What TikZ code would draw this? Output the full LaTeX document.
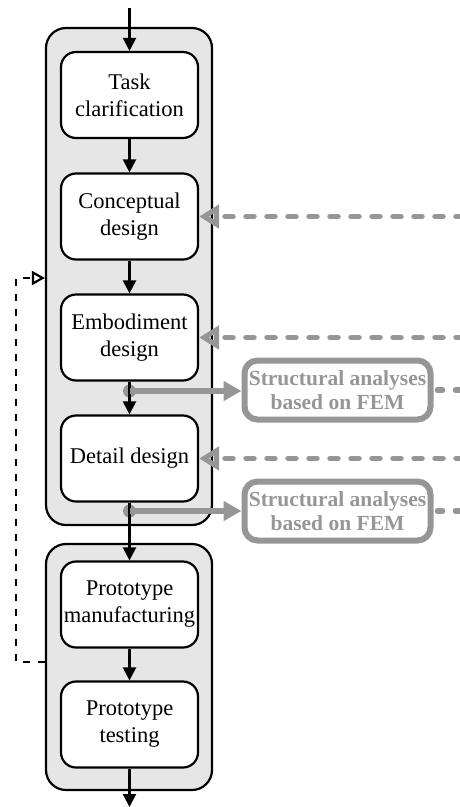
\documentclass[tikz,border=0pt]{standalone}
\usepackage{fontspec}
\setmainfont{Liberation Serif}
\usetikzlibrary{arrows.meta}
\definecolor{phasefill}{RGB}{230,230,230}
\definecolor{fegray}{RGB}{150,150,150}
\tikzset{
  phase/.style={draw=black, line width=2.2pt, fill=phasefill, rounded corners=20pt,
    minimum width=166pt, inner sep=0pt},
  stepbox/.style={draw=black, line width=2.2pt, fill=white, rounded corners=15pt,
    minimum width=137pt, minimum height=86pt, inner sep=0pt, align=center,
    font=\fontsize{22.5}{27}\selectfont},
  femeval/.style={draw=fegray, line width=6pt, fill=white, rounded corners=13pt,
    minimum width=186pt, minimum height=59pt, inner sep=0pt, align=center,
    text=fegray, font=\fontsize{21.5}{24}\selectfont\bfseries},
  flow/.style={line width=2.2pt, -{Triangle[length=13pt,width=13pt]}},
  feedback/.style={line width=2.2pt, dash pattern=on 7pt off 8pt,
    -{Triangle[open,length=13pt,width=14pt]}},
  input/.style={draw=fegray, line width=5.5pt, line cap=round, dash pattern=on 8pt off 13pt,
    -{Triangle[open,length=20pt,width=23pt,line cap=butt]}},
  output/.style={draw=fegray, line width=5.5pt, -{Triangle[length=18pt,width=19pt]}},
  outdash/.style={draw=fegray, line width=5.5pt, line cap=round, dash pattern=on 8pt off 13pt,
    dash phase=3pt},
}
\begin{document}
\begin{tikzpicture}[x=1pt, y=-1pt]
\useasboundingbox (0,0) rectangle (460,807);

% phase containers
\node[phase, minimum height=497pt] (design) at (129,276.5) {};
\node[phase, minimum height=246pt] (proto) at (129,667) {};

% process steps
\node[stepbox] (task) at (129.5,95) {Task\\clarification};
\node[stepbox] (concept) at (129.5,216.5) {Conceptual\\design};
\node[stepbox] (embod) at (129.5,337.5) {Embodiment\\design};
\node[stepbox] (detail) at (129.5,458.5) {Detail design};
\node[stepbox] (manuf) at (129.5,604.5) {Prototype\\manufacturing};
\node[stepbox] (test) at (129.5,724.5) {Prototype\\testing};

% FEM analyses
\node[femeval] (fem1) at (337.5,390) {Structural analyses\\based on FEM};
\node[femeval] (fem2) at (337.5,511) {Structural analyses\\based on FEM};

% in/out coordinates
\coordinate (start) at (129.5,8);
\coordinate (finish) at (129.5,807);
\coordinate (tap1) at (129.5,391);
\coordinate (tap2) at (129.5,511);
\coordinate (inC) at (464,216.5);
\coordinate (inE) at (464,337.5);
\coordinate (inD) at (464,458.5);
\coordinate (out1) at (464,390);
\coordinate (out2) at (464,511);
\coordinate (fbA) at (16,662);
\coordinate (fbB) at (16,278);

% FEM output taps (under the main flow line)
\fill[fegray] (tap1) circle (6.5pt);
\fill[fegray] (tap2) circle (6.5pt);

% main flow
\draw[flow] (start) -- (task);
\draw[flow] (task) -- (concept);
\draw[flow] (concept) -- (embod);
\draw[flow] (embod) -- (detail);
\draw[flow] (detail) -- (manuf);
\draw[flow] (manuf) -- (test);
\draw[flow] (test) -- (finish);

% feedback from prototyping to design
\draw[feedback] (proto.west |- fbA) -- (fbA) -- (fbB) -- (design.west |- fbB);

% incoming dashed inputs
\draw[input] (inC) -- (concept.east);
\draw[input] (inE) -- (embod.east);
\draw[input] (inD) -- (detail.east);

% FEM outputs
\draw[output] (tap1) -- (fem1.west |- tap1);
\draw[output] (tap2) -- (fem2.west);
\draw[outdash] (fem1.east) ++(4,0) -- (out1);
\draw[outdash] (fem2.east) ++(4,0) -- (out2);
\end{tikzpicture}
\end{document}
